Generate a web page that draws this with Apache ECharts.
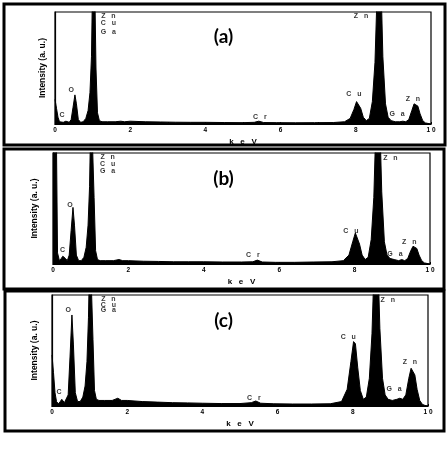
<!DOCTYPE html>
<html>
<head>
<meta charset="utf-8">
<script src="https://cdn.jsdelivr.net/npm/echarts@6/dist/echarts.min.js"></script>
<style>
  html, body { margin: 0; padding: 0; background: #fff; }
  #chart { width: 447px; height: 455px; }
</style>
</head>
<body>
<div id="chart"></div>
<script>
// energy grid (keV), shared by the three spectra
var energy = [
    0, 0.04, 0.08, 0.12, 0.17, 0.22, 0.26, 0.29, 0.33, 0.38,
    0.43, 0.48, 0.53, 0.57, 0.62, 0.68, 0.75, 0.82, 0.88, 0.93,
    0.97, 1.01, 1.05, 1.09, 1.13, 1.18, 1.25, 1.4, 1.6, 1.75,
    1.85, 2.0, 2.4, 2.8, 3.2, 3.6, 4.0, 4.5, 5.0, 5.3,
    5.42, 5.55, 5.9, 6.4, 6.9, 7.4, 7.7, 7.85, 7.95, 8.02,
    8.07, 8.13, 8.2, 8.28, 8.36, 8.44, 8.51, 8.56, 8.61, 8.66,
    8.72, 8.79, 8.86, 8.94, 9.05, 9.17, 9.25, 9.33, 9.41, 9.49,
    9.55, 9.6, 9.65, 9.71, 9.78, 9.85, 9.92, 10
];

// intensity, % of panel height (values above 100 run off the top)
var intensityA = [
    22, 14, 6, 2, 1, 1.5, 2.5, 2.5, 1.5, 1.5,
    4, 15, 26, 18, 4, 1.5, 2, 5, 12, 28,
    60, 150, 140, 50, 10, 3, 2, 2, 2, 2.5,
    2, 2.5, 2, 1.8, 1.6, 1.5, 1.5, 1.3, 1.2, 1.5,
    2.5, 1.3, 1.2, 1.1, 1.2, 1.3, 2, 5, 13, 20,
    21, 14, 6, 3, 5, 20, 55, 110, 160, 140,
    60, 18, 6, 3, 2, 2, 2.5, 2, 4, 12,
    18, 19, 16, 9, 3, 1, 0.5, 0
];
var intensityB = [
    150, 150, 150, 10, 3, 5, 7, 8, 5, 3,
    8, 30, 51, 35, 8, 3, 3, 6, 15, 35,
    70, 150, 150, 60, 12, 4, 3, 3, 3, 4,
    3, 3, 2.5, 2.3, 2, 2, 2, 1.8, 1.8, 2,
    3.5, 1.8, 1.5, 1.5, 1.8, 2, 3, 8, 20, 28,
    27, 18, 8, 4, 6, 22, 60, 120, 160, 140,
    65, 20, 8, 5, 4, 3, 4, 3, 5, 12,
    16, 17, 14, 8, 3, 1, 0.5, 0
];
var intensityC = [
    46, 30, 12, 4, 2, 4, 6, 5, 3, 2.5,
    10, 45, 82, 55, 12, 4, 4, 8, 18, 40,
    80, 150, 150, 60, 14, 6, 5, 5, 5, 7,
    5, 5, 4, 3.5, 3, 2.8, 2.5, 2.2, 2.2, 3,
    4.5, 2.5, 2, 1.8, 1.8, 2, 4, 15, 40, 58,
    56, 35, 14, 6, 8, 25, 65, 120, 160, 140,
    70, 25, 10, 6, 5, 6, 7, 6, 10, 25,
    34, 35, 28, 15, 5, 1.5, 0.5, 0
];

// peak labels: [keV, intensity, text]
var peakLabelsA = [
    [0.19, 8, 'C'], [0.43, 30, 'O'],
    [1.42, 96, 'Z   n'], [1.42, 90, 'C   u'], [1.42, 82, 'G   a'],
    [5.45, 6, 'C   r'], [7.95, 27, 'C   u'], [8.14, 96, 'Z   n'],
    [9.1, 9, 'G   a'], [9.52, 22, 'Z   n']
];
var peakLabelsB = [
    [0.25, 13, 'C'], [0.45, 53, 'O'],
    [1.45, 96, 'Z   n'], [1.45, 90, 'C   u'], [1.45, 84, 'G   a'],
    [5.3, 8, 'C   r'], [7.9, 30, 'C   u'], [8.95, 95, 'Z   n'],
    [9.07, 9, 'G   a'], [9.45, 20, 'Z   n']
];
var peakLabelsC = [
    [0.19, 13, 'C'], [0.43, 86, 'O'],
    [1.5, 96, 'Z   n'], [1.5, 91, 'C   u'], [1.5, 86, 'G   a'],
    [5.37, 7, 'C   r'], [7.88, 62, 'C   u'], [8.93, 95, 'Z   n'],
    [9.1, 15, 'G   a'], [9.52, 40, 'Z   n']
];

var panelNames = ['(a)', '(b)', '(c)'];
var xTickValues = [0, 2, 4, 6, 8, 10];
var xTickLabels = ['0', '2', '4', '6', '8', '1 0'];
var xName = 'k   e   V';
var yName = 'Intensity (a. u.)';

var chart = echarts.init(document.getElementById('chart'));

var grids = [
    {left: 55, top: 12, width: 376, height: 112},
    {left: 53, top: 153, width: 377, height: 111},
    {left: 52, top: 295, width: 376, height: 111}
];
var titleTops = [27, 169, 311];
var yNameGaps = [8, 14, 13];
var spectra = [intensityA, intensityB, intensityC];
var labels = [peakLabelsA, peakLabelsB, peakLabelsC];

function pairs(ys) {
    return energy.map(function(e, i) { return [e, ys[i]]; });
}

var option = {
    animation: false,
    title: [],
    grid: [],
    xAxis: [],
    yAxis: [],
    series: [],
    graphic: [
        {type: 'rect', shape: {x: 4, y: 4, width: 441, height: 141}, style: {fill: 'none', stroke: '#000', lineWidth: 3}},
        {type: 'rect', shape: {x: 4, y: 149, width: 440, height: 140}, style: {fill: 'none', stroke: '#000', lineWidth: 3}},
        {type: 'rect', shape: {x: 5, y: 291, width: 439, height: 140}, style: {fill: 'none', stroke: '#000', lineWidth: 3}}
    ]
};

for (var i = 0; i < 3; i++) {
    var g = grids[i];
    option.grid.push({
        left: g.left, top: g.top, width: g.width, height: g.height,
        show: true, borderColor: '#000', borderWidth: 1.2, backgroundColor: '#fff'
    });
    option.title.push({
        text: panelNames[i], left: 'center', top: titleTops[i], padding: 0,
        textStyle: {fontFamily: 'Lato', fontWeight: 'bold', fontSize: 19, color: '#000'}
    });
    option.xAxis.push({
        type: 'value', gridIndex: i, min: 0, max: 10, interval: 2,
        name: xName, nameLocation: 'middle', nameGap: 14,
        nameTextStyle: {fontFamily: 'Liberation Sans', fontWeight: 'bold', fontSize: 8, color: '#000'},
        axisLine: {lineStyle: {color: '#000', width: 1.2}},
        axisTick: {inside: true, length: 2, lineStyle: {color: '#000'}},
        minorTick: {show: true, splitNumber: 2, length: 2, lineStyle: {color: '#000'}},
        splitLine: {show: false},
        axisLabel: {
            margin: 3, fontSize: 6.5, fontWeight: 'bold', color: '#000', fontFamily: 'Liberation Sans',
            formatter: function(v) { return xTickLabels[xTickValues.indexOf(v)]; }
        }
    });
    option.yAxis.push({
        type: 'value', gridIndex: i, min: 0, max: 100,
        name: yName, nameLocation: 'middle', nameGap: yNameGaps[i],
        nameTextStyle: {fontFamily: 'Liberation Sans', fontWeight: 'bold', fontSize: 8.5, color: '#000'},
        axisLine: {lineStyle: {color: '#000', width: 1.2}},
        axisTick: {show: false}, axisLabel: {show: false}, splitLine: {show: false}
    });
    option.series.push({
        type: 'line', xAxisIndex: i, yAxisIndex: i, data: pairs(spectra[i]),
        symbol: 'none', clip: true,
        lineStyle: {color: '#000', width: 1}, areaStyle: {color: '#000', opacity: 1}
    });
    option.series.push({
        type: 'scatter', xAxisIndex: i, yAxisIndex: i, data: labels[i],
        symbolSize: 1, itemStyle: {color: 'rgba(0,0,0,0)'},
        label: {
            show: true, position: 'inside', fontSize: 7, fontWeight: 'bold', color: '#000',
            fontFamily: 'Liberation Sans',
            formatter: function(p) { return p.value[2]; }
        }
    });
}

chart.setOption(option);
</script>
</body>
</html>
